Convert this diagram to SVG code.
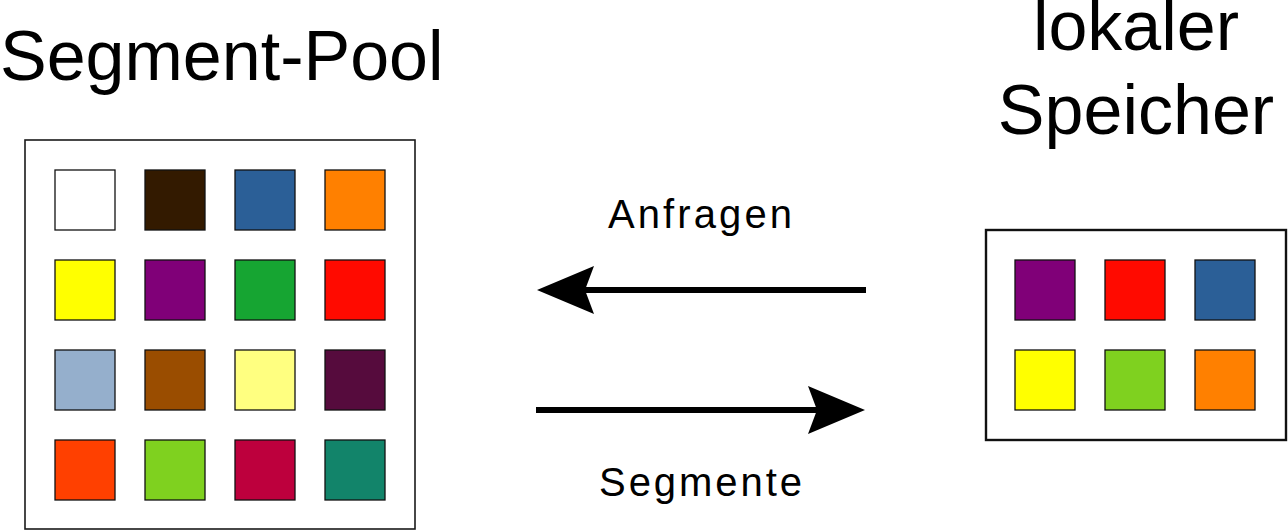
<svg xmlns="http://www.w3.org/2000/svg" width="1288" height="531" viewBox="0 0 1288 531">
<style>
text{font-family:"Liberation Sans",Arial,sans-serif;fill:#000}
.title{font-size:70px}
.lbl{font-size:40px}
.frame{fill:#fff;stroke:#1a1a1a;stroke-width:1.6}
.frame2{fill:#fff;stroke:#111;stroke-width:2.4}
.sq{stroke:#111;stroke-width:1.3}
.conn{stroke:#000;stroke-width:6;fill:none}
.head{fill:#000}
</style>
<rect width="1288" height="531" fill="#fff"/>
<g id="title-pool"><text class="title" x="0" y="80">Segment-Pool</text></g>
<g id="title-local"><text class="title" x="1136" y="50" text-anchor="middle">lokaler</text><text class="title" x="1136" y="134" text-anchor="middle">Speicher</text></g>
<g id="pool">
<rect class="frame" x="25" y="140" width="390" height="389"/>
<rect class="sq" x="55" y="170" width="60" height="60" fill="#ffffff"/>
<rect class="sq" x="145" y="170" width="60" height="60" fill="#331a00"/>
<rect class="sq" x="235" y="170" width="60" height="60" fill="#2b5f97"/>
<rect class="sq" x="325" y="170" width="60" height="60" fill="#ff8000"/>
<rect class="sq" x="55" y="260" width="60" height="60" fill="#ffff00"/>
<rect class="sq" x="145" y="260" width="60" height="60" fill="#800078"/>
<rect class="sq" x="235" y="260" width="60" height="60" fill="#16a532"/>
<rect class="sq" x="325" y="260" width="60" height="60" fill="#ff0a00"/>
<rect class="sq" x="55" y="350" width="60" height="60" fill="#95afcc"/>
<rect class="sq" x="145" y="350" width="60" height="60" fill="#9a4d00"/>
<rect class="sq" x="235" y="350" width="60" height="60" fill="#ffff80"/>
<rect class="sq" x="325" y="350" width="60" height="60" fill="#560b3d"/>
<rect class="sq" x="55" y="440" width="60" height="60" fill="#ff4000"/>
<rect class="sq" x="145" y="440" width="60" height="60" fill="#7fd11f"/>
<rect class="sq" x="235" y="440" width="60" height="60" fill="#bd003d"/>
<rect class="sq" x="325" y="440" width="60" height="60" fill="#12846a"/>
</g>
<g id="local">
<rect class="frame2" x="986" y="230" width="300" height="210"/>
<rect class="sq" x="1015" y="260" width="60" height="60" fill="#800078"/>
<rect class="sq" x="1105" y="260" width="60" height="60" fill="#ff0a00"/>
<rect class="sq" x="1195" y="260" width="60" height="60" fill="#2b5f97"/>
<rect class="sq" x="1015" y="350" width="60" height="60" fill="#ffff00"/>
<rect class="sq" x="1105" y="350" width="60" height="60" fill="#7fd11f"/>
<rect class="sq" x="1195" y="350" width="60" height="60" fill="#ff8000"/>
</g>
<g id="connectors">
<line class="conn" x1="866" y1="290" x2="580" y2="290"/>
<path class="head" d="M537,290 L594,266 L585,290 L594,314 Z"/>
<line class="conn" x1="536" y1="410" x2="822" y2="410"/>
<path class="head" d="M865,410 L808,386 L817,410 L808,434 Z"/>
<text class="lbl" x="608" y="228" textLength="184" lengthAdjust="spacing">Anfragen</text>
<text class="lbl" x="599" y="496" textLength="203" lengthAdjust="spacing">Segmente</text>
</g>
</svg>
